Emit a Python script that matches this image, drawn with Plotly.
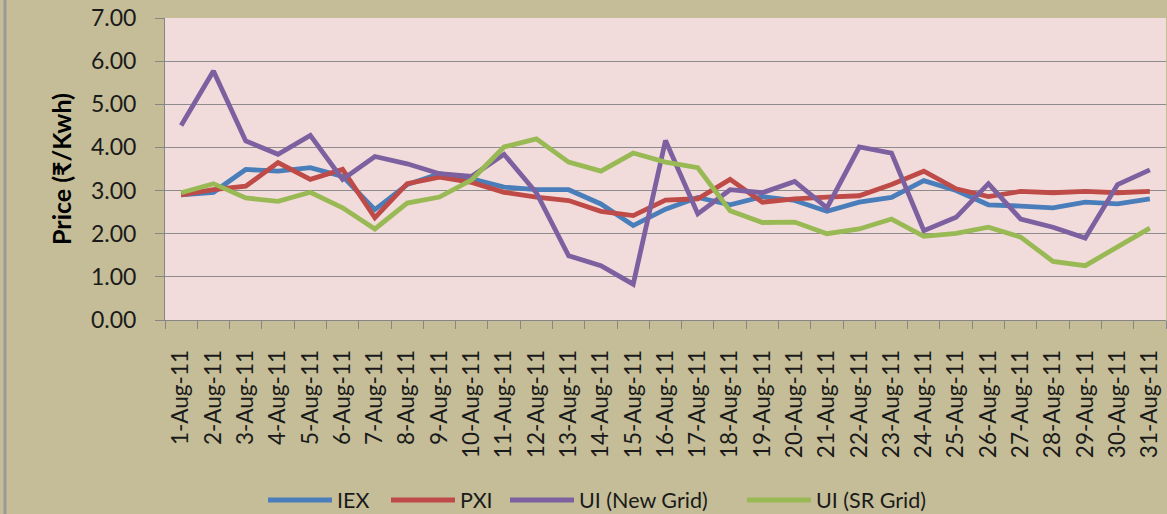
import plotly.graph_objects as go

dates = [f"{d}-Aug-11" for d in range(1, 32)]
iex = [2.90, 2.96, 3.49, 3.45, 3.53, 3.33, 2.56, 3.14, 3.39, 3.27, 3.08, 3.02, 3.02, 2.69, 2.19, 2.57,
       2.84, 2.67, 2.86, 2.77, 2.52, 2.73, 2.84, 3.23, 3.00, 2.67, 2.64, 2.60, 2.73, 2.69, 2.81]
pxi = [2.90, 3.02, 3.10, 3.65, 3.26, 3.49, 2.37, 3.16, 3.31, 3.19, 2.96, 2.85, 2.77, 2.52, 2.42, 2.78,
       2.81, 3.26, 2.73, 2.81, 2.85, 2.88, 3.14, 3.45, 3.04, 2.86, 2.98, 2.95, 2.98, 2.95, 2.98]
ui_new = [4.51, 5.77, 4.15, 3.84, 4.28, 3.26, 3.79, 3.62, 3.39, 3.33, 3.84, 2.95, 1.49, 1.26, 0.83, 4.16,
          2.46, 3.02, 2.95, 3.21, 2.60, 4.01, 3.87, 2.07, 2.38, 3.16, 2.34, 2.15, 1.90, 3.14, 3.48]
ui_sr = [2.95, 3.16, 2.83, 2.75, 2.96, 2.60, 2.11, 2.71, 2.85, 3.25, 4.01, 4.20, 3.66, 3.45, 3.87, 3.66,
         3.53, 2.53, 2.26, 2.27, 2.00, 2.11, 2.34, 1.94, 2.01, 2.15, 1.92, 1.36, 1.26, 1.70, 2.13]
y_ticks = [0, 1, 2, 3, 4, 5, 6, 7]

series = [("IEX", iex, "#4A7EBB"), ("PXI", pxi, "#BE4B48"),
          ("UI (New Grid)", ui_new, "#7D60A0"), ("UI (SR Grid)", ui_sr, "#98B954")]
legend_ids = ["legend", "legend2", "legend3", "legend4"]
legend_x_px = [268, 391, 510, 747]

FONT = "Lato, Liberation Sans, DejaVu Sans"
W, H = 1167, 514
L, R, T, B = 165, 1, 18, 194
PW, PH = W - L - R, H - T - B

fig = go.Figure()
for (name, vals, col), lid in zip(series, legend_ids):
    fig.add_trace(go.Scatter(x=dates, y=vals, name=name, mode="lines", legend=lid,
                             line=dict(color=col, width=4.8)))

legend_y = (T + PH - 500) / PH
layout_legends = {}
for lid, xp in zip(legend_ids, legend_x_px):
    layout_legends[lid] = dict(orientation="h", yanchor="middle", y=legend_y,
                               xanchor="left", x=(xp - L - 5) / PW,
                               font=dict(size=21.5, family=FONT, color="#1a1a1a"),
                               bgcolor="rgba(0,0,0,0)", itemwidth=64, borderwidth=0)

fig.update_layout(
    width=W, height=H,
    margin=dict(l=L, r=R, t=T, b=B, autoexpand=False),
    paper_bgcolor="#C4BD97", plot_bgcolor="#F2DCDB",
    font=dict(family=FONT, color="#000000"),
    showlegend=True,
    xaxis=dict(type="category", tickangle=-90, tickfont=dict(size=22.5, family=FONT, color="#1a1a1a"),
               showgrid=False, showline=True, linecolor="#868686", linewidth=1,
               ticks="outside", ticklen=8, tickcolor="#868686", tickson="boundaries",
               range=[-0.5, 30.5], automargin=False, ticklabelstandoff=20),
    yaxis=dict(range=[0, 7], tickvals=y_ticks, tickformat=".2f",
               tickfont=dict(size=23, family=FONT, color="#1a1a1a"), gridcolor="#8C8C8C", gridwidth=1,
               showline=True, linecolor="#868686", linewidth=1, automargin=False,
               ticks="outside", ticklen=9, tickcolor="#868686", zeroline=False, ticklabelstandoff=14,
               title=dict(text="<b>Price (₹/Kwh)</b>", font=dict(size=25, family=FONT), standoff=12)),
    **layout_legends,
)
fig.add_shape(type="line", xref="paper", yref="paper", x0=-(L - 5) / PW, x1=-(L - 5) / PW,
              y0=-B / PH, y1=1 + T / PH, line=dict(color="#9A9A9A", width=3))

fig.write_html("out.html", config={"displayModeBar": False},
               post_script="document.body.style.margin='0';document.body.style.padding='0';")
